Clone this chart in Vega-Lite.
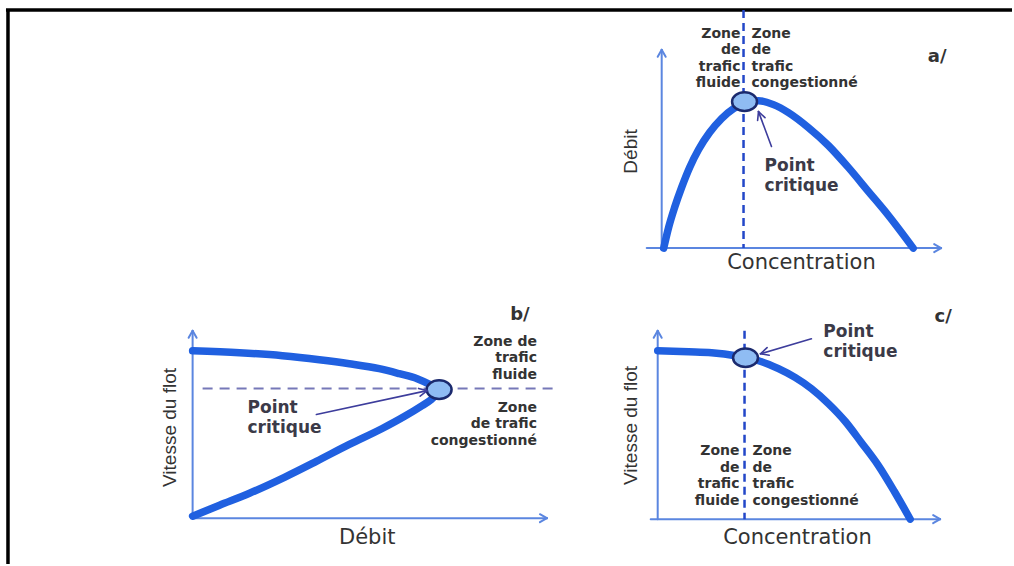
{
  "$schema": "https://vega.github.io/schema/vega-lite/v6.json",
  "width": 1014,
  "height": 566,
  "padding": 0,
  "autosize": {"type": "fit", "contains": "padding"},
  "background": "white",
  "config": {"view": {"stroke": null}},
  "datasets": {
    "frame": [
      {"x": 6, "y": 10, "x2": 1014, "y2": 10},
      {"x": 8, "y": 10, "x2": 8, "y2": 566}
    ],
    "axes": [
      {"x": 663, "y": 249, "x2": 663, "y2": 50},
      {"x": 648, "y": 249, "x2": 943, "y2": 249},
      {"x": 659, "y": 57, "x2": 663, "y2": 50},
      {"x": 667, "y": 57, "x2": 663, "y2": 50},
      {"x": 936, "y": 245, "x2": 943, "y2": 249},
      {"x": 936, "y": 253, "x2": 943, "y2": 249},
      {"x": 193, "y": 520, "x2": 193, "y2": 332},
      {"x": 193, "y": 520, "x2": 548, "y2": 520},
      {"x": 189, "y": 339, "x2": 193, "y2": 332},
      {"x": 197, "y": 339, "x2": 193, "y2": 332},
      {"x": 541, "y": 516, "x2": 548, "y2": 520},
      {"x": 541, "y": 524, "x2": 548, "y2": 520},
      {"x": 659, "y": 521, "x2": 659, "y2": 332},
      {"x": 652, "y": 521, "x2": 942, "y2": 521},
      {"x": 655, "y": 339, "x2": 659, "y2": 332},
      {"x": 663, "y": 339, "x2": 659, "y2": 332},
      {"x": 935, "y": 517, "x2": 942, "y2": 521},
      {"x": 935, "y": 525, "x2": 942, "y2": 521}
    ],
    "vdash": [
      {"x": 745, "y": 10, "x2": 745, "y2": 249},
      {"x": 746, "y": 332, "x2": 746, "y2": 521}
    ],
    "hdash": [
      {"x": 203, "y": 390, "x2": 560, "y2": 390}
    ],
    "pointers": [
      {"x": 773, "y": 147, "x2": 760, "y2": 112},
      {"x": 766.5, "y": 118.1, "x2": 760, "y2": 112},
      {"x": 759.1, "y": 120.9, "x2": 760, "y2": 112},
      {"x": 317, "y": 416, "x2": 428, "y2": 392},
      {"x": 421, "y": 397.6, "x2": 428, "y2": 392},
      {"x": 419.4, "y": 389.8, "x2": 428, "y2": 392},
      {"x": 813, "y": 340, "x2": 762, "y2": 355},
      {"x": 768.6, "y": 348.9, "x2": 762, "y2": 355},
      {"x": 770.8, "y": 356.5, "x2": 762, "y2": 355}
    ],
    "curves": [
      {"c": "a", "i": 0, "x": 665, "y": 249},
      {"c": "a", "i": 1, "x": 670, "y": 228},
      {"c": "a", "i": 2, "x": 676, "y": 208},
      {"c": "a", "i": 3, "x": 683, "y": 188},
      {"c": "a", "i": 4, "x": 691, "y": 168},
      {"c": "a", "i": 5, "x": 700, "y": 150},
      {"c": "a", "i": 6, "x": 711, "y": 133},
      {"c": "a", "i": 7, "x": 723, "y": 119},
      {"c": "a", "i": 8, "x": 735, "y": 109},
      {"c": "a", "i": 9, "x": 747, "y": 103},
      {"c": "a", "i": 10, "x": 760, "y": 101},
      {"c": "a", "i": 11, "x": 775, "y": 105},
      {"c": "a", "i": 12, "x": 790, "y": 113},
      {"c": "a", "i": 13, "x": 810, "y": 128},
      {"c": "a", "i": 14, "x": 830, "y": 146},
      {"c": "a", "i": 15, "x": 850, "y": 168},
      {"c": "a", "i": 16, "x": 870, "y": 192},
      {"c": "a", "i": 17, "x": 890, "y": 216},
      {"c": "a", "i": 18, "x": 915, "y": 249},
      {"c": "b1", "i": 0, "x": 193, "y": 352},
      {"c": "b1", "i": 1, "x": 240, "y": 354},
      {"c": "b1", "i": 2, "x": 283, "y": 357},
      {"c": "b1", "i": 3, "x": 320, "y": 361},
      {"c": "b1", "i": 4, "x": 350, "y": 365},
      {"c": "b1", "i": 5, "x": 380, "y": 370},
      {"c": "b1", "i": 6, "x": 400, "y": 375},
      {"c": "b1", "i": 7, "x": 418, "y": 380},
      {"c": "b1", "i": 8, "x": 433, "y": 387},
      {"c": "b1", "i": 9, "x": 440, "y": 391},
      {"c": "b2", "i": 0, "x": 193, "y": 518},
      {"c": "b2", "i": 1, "x": 220, "y": 507},
      {"c": "b2", "i": 2, "x": 250, "y": 495},
      {"c": "b2", "i": 3, "x": 285, "y": 479},
      {"c": "b2", "i": 4, "x": 317, "y": 463},
      {"c": "b2", "i": 5, "x": 350, "y": 446},
      {"c": "b2", "i": 6, "x": 383, "y": 430},
      {"c": "b2", "i": 7, "x": 405, "y": 418},
      {"c": "b2", "i": 8, "x": 423, "y": 407},
      {"c": "b2", "i": 9, "x": 432, "y": 401},
      {"c": "b2", "i": 10, "x": 440, "y": 393},
      {"c": "c", "i": 0, "x": 659, "y": 352},
      {"c": "c", "i": 1, "x": 690, "y": 353},
      {"c": "c", "i": 2, "x": 713, "y": 354},
      {"c": "c", "i": 3, "x": 737, "y": 357},
      {"c": "c", "i": 4, "x": 747, "y": 359},
      {"c": "c", "i": 5, "x": 760, "y": 362},
      {"c": "c", "i": 6, "x": 780, "y": 370},
      {"c": "c", "i": 7, "x": 797, "y": 379},
      {"c": "c", "i": 8, "x": 813, "y": 390},
      {"c": "c", "i": 9, "x": 830, "y": 405},
      {"c": "c", "i": 10, "x": 847, "y": 423},
      {"c": "c", "i": 11, "x": 863, "y": 444},
      {"c": "c", "i": 12, "x": 880, "y": 467},
      {"c": "c", "i": 13, "x": 896, "y": 493},
      {"c": "c", "i": 14, "x": 912, "y": 521}
    ],
    "critical": [
      {"x": 746, "y": 102},
      {"x": 440, "y": 391},
      {"x": 747, "y": 359}
    ],
    "zoneR": [
      {"x": 742, "y": 27, "label": "Zone\nde\ntrafic\nfluide"},
      {"x": 741, "y": 446, "label": "Zone\nde\ntrafic\nfluide"},
      {"x": 538, "y": 336, "label": "Zone de\ntrafic\nfluide"},
      {"x": 538, "y": 402, "label": "Zone\nde trafic\ncongestionné"}
    ],
    "zoneL": [
      {"x": 753, "y": 27, "label": "Zone\nde\ntrafic\ncongestionné"},
      {"x": 754, "y": 446, "label": "Zone\nde\ntrafic\ncongestionné"}
    ],
    "pc": [
      {"x": 766, "y": 159, "label": "Point\ncritique"},
      {"x": 248, "y": 401, "label": "Point\ncritique"},
      {"x": 825, "y": 325, "label": "Point\ncritique"}
    ],
    "titles": [
      {"x": 803, "y": 264, "label": "Concentration"},
      {"x": 799, "y": 540, "label": "Concentration"},
      {"x": 368, "y": 540, "label": "Débit"}
    ],
    "vtitles": [
      {"x": 632, "y": 152, "label": "Débit"},
      {"x": 170, "y": 429, "label": "Vitesse du flot"},
      {"x": 632, "y": 427, "label": "Vitesse du flot"}
    ],
    "letters": [
      {"x": 939, "y": 57, "label": "a/"},
      {"x": 521, "y": 316, "label": "b/"},
      {"x": 945, "y": 318, "label": "c/"}
    ]
  },
  "encoding": {
    "x": {"field": "x", "type": "quantitative", "axis": null, "scale": {"domain": [0, 1014], "nice": false, "zero": false}},
    "y": {"field": "y", "type": "quantitative", "axis": null, "scale": {"domain": [0, 566], "nice": false, "zero": false, "reverse": true}}
  },
  "layer": [
    {
      "data": {"name": "frame"},
      "mark": {"type": "rule", "color": "#000000", "strokeWidth": 3.5},
      "encoding": {"x2": {"field": "x2"}, "y2": {"field": "y2"}}
    },
    {
      "data": {"name": "axes"},
      "mark": {"type": "rule", "color": "#5b86e0", "strokeWidth": 2, "strokeCap": "round"},
      "encoding": {"x2": {"field": "x2"}, "y2": {"field": "y2"}}
    },
    {
      "data": {"name": "vdash"},
      "mark": {"type": "rule", "color": "#2347c8", "strokeWidth": 2.5, "strokeDash": [8, 5]},
      "encoding": {"x2": {"field": "x2"}, "y2": {"field": "y2"}}
    },
    {
      "data": {"name": "hdash"},
      "mark": {"type": "rule", "color": "#7678b8", "strokeWidth": 2, "strokeDash": [10, 7]},
      "encoding": {"x2": {"field": "x2"}, "y2": {"field": "y2"}}
    },
    {
      "data": {"name": "curves"},
      "mark": {"type": "line", "color": "#2060e0", "strokeWidth": 7.5, "strokeCap": "round", "interpolate": "monotone"},
      "encoding": {"detail": {"field": "c"}, "order": {"field": "i", "type": "quantitative"}}
    },
    {
      "data": {"name": "critical"},
      "mark": {"type": "point", "filled": true, "fill": "#8fbcf3", "stroke": "#1b2a6e", "strokeWidth": 2.5, "opacity": 1, "size": 620, "shape": "M-1,0A1,0.75,0,1,1,1,0A1,0.75,0,1,1,-1,0Z"}
    },
    {
      "data": {"name": "pointers"},
      "mark": {"type": "rule", "color": "#3d3d9c", "strokeWidth": 1.6, "strokeCap": "round"},
      "encoding": {"x2": {"field": "x2"}, "y2": {"field": "y2"}}
    },
    {
      "data": {"name": "zoneR"},
      "mark": {"type": "text", "align": "right", "baseline": "top", "font": "DejaVu Sans", "fontWeight": "bold", "fontSize": 14, "lineHeight": 16.5, "lineBreak": "\n", "color": "#333333"},
      "encoding": {"text": {"field": "label"}}
    },
    {
      "data": {"name": "zoneL"},
      "mark": {"type": "text", "align": "left", "baseline": "top", "font": "DejaVu Sans", "fontWeight": "bold", "fontSize": 14, "lineHeight": 16.5, "lineBreak": "\n", "color": "#333333"},
      "encoding": {"text": {"field": "label"}}
    },
    {
      "data": {"name": "pc"},
      "mark": {"type": "text", "align": "left", "baseline": "top", "font": "DejaVu Sans", "fontWeight": "bold", "fontSize": 17, "lineHeight": 20, "lineBreak": "\n", "color": "#3b3a48"},
      "encoding": {"text": {"field": "label"}}
    },
    {
      "data": {"name": "titles"},
      "mark": {"type": "text", "align": "center", "baseline": "middle", "font": "DejaVu Sans", "fontSize": 21, "color": "#333333"},
      "encoding": {"text": {"field": "label"}}
    },
    {
      "data": {"name": "vtitles"},
      "mark": {"type": "text", "align": "center", "baseline": "middle", "angle": 270, "font": "Liberation Sans", "fontSize": 19, "color": "#333333"},
      "encoding": {"text": {"field": "label"}}
    },
    {
      "data": {"name": "letters"},
      "mark": {"type": "text", "align": "center", "baseline": "middle", "font": "DejaVu Sans", "fontWeight": "bold", "fontSize": 18, "color": "#333333"},
      "encoding": {"text": {"field": "label"}}
    }
  ]
}
